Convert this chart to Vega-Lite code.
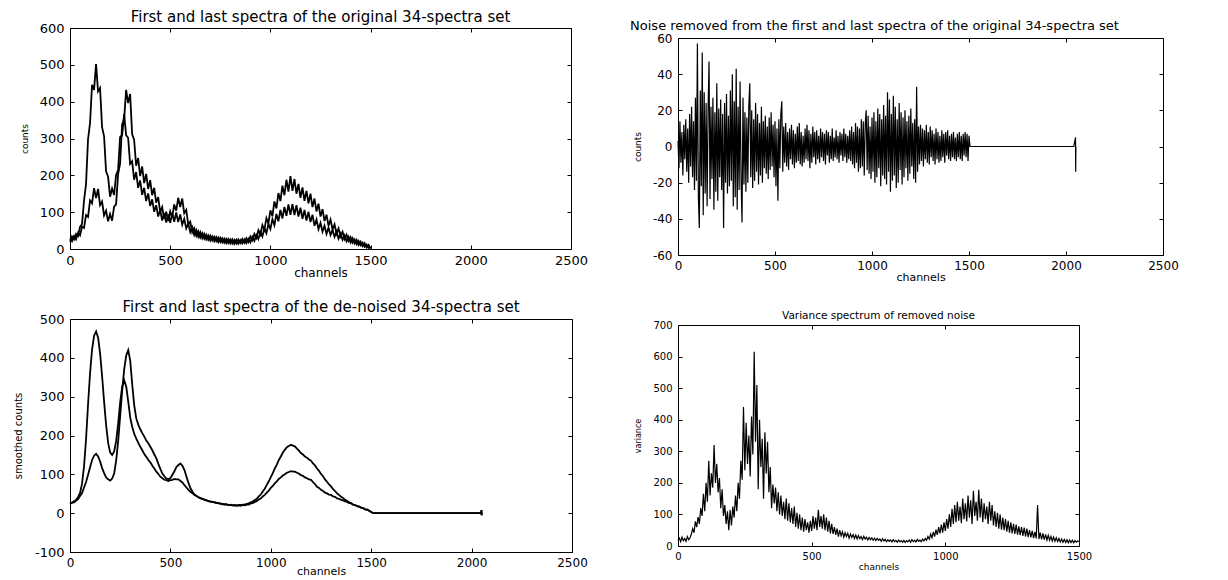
{
"$schema": "https://vega.github.io/schema/vega-lite/v6.json",
"background": "white",
"padding": {"left": 12, "top": 9, "right": 5, "bottom": 0},
"config": {
 "font": "DejaVu Sans",
 "view": {"stroke": "black", "strokeWidth": 1},
 "axis": {"grid": false, "domain": false, "tickColor": "black", "tickSize": -4, "labelPadding": 10, "labelColor": "black", "titleColor": "black", "labelFont": "DejaVu Sans", "titleFont": "DejaVu Sans", "titleFontWeight": "normal", "labelFlush": false, "labelOverlap": false, "labelBound": false, "domainColor": "black", "domainWidth": 1},
 "axisX": {"labelPadding": 9},
 "title": {"font": "DejaVu Sans", "fontWeight": "normal", "color": "black", "anchor": "middle"}
},
"datasets": {
 "tl": [
{"x":0,"a":20,"b":29},{"x":10,"a":34,"b":21},{"x":20,"a":26,"b":35},{"x":30,"a":41,"b":26},{"x":40,"a":35,"b":44},{"x":50,"a":60,"b":37},{"x":60,"a":68,"b":61},{"x":70,"a":131,"b":57},{"x":80,"a":176,"b":92},{"x":90,"a":298,"b":87},
{"x":100,"a":342,"b":132},{"x":110,"a":446,"b":124},{"x":120,"a":432,"b":165},{"x":130,"a":502,"b":138},{"x":140,"a":428,"b":163},{"x":150,"a":437,"b":119},{"x":160,"a":331,"b":129},{"x":170,"a":306,"b":91},{"x":180,"a":211,"b":104},{"x":190,"a":196,"b":75},
{"x":200,"a":142,"b":95},{"x":210,"a":164,"b":77},{"x":220,"a":147,"b":115},{"x":230,"a":201,"b":121},{"x":240,"a":214,"b":203},{"x":250,"a":304,"b":232},{"x":260,"a":308,"b":338},{"x":270,"a":366,"b":351},{"x":280,"a":309,"b":432},{"x":290,"a":302,"b":396},
{"x":300,"a":231,"b":421},{"x":310,"a":238,"b":312},{"x":320,"a":188,"b":296},{"x":330,"a":209,"b":226},{"x":340,"a":166,"b":247},{"x":350,"a":186,"b":198},{"x":360,"a":147,"b":224},{"x":370,"a":166,"b":179},{"x":380,"a":130,"b":204},{"x":390,"a":151,"b":163},
{"x":400,"a":117,"b":187},{"x":410,"a":135,"b":146},{"x":420,"a":101,"b":166},{"x":430,"a":119,"b":126},{"x":440,"a":88,"b":141},{"x":450,"a":106,"b":100},{"x":460,"a":77,"b":114},{"x":470,"a":97,"b":82},{"x":480,"a":72,"b":101},{"x":490,"a":94,"b":76},
{"x":500,"a":71,"b":102},{"x":510,"a":97,"b":86},{"x":520,"a":74,"b":121},{"x":530,"a":99,"b":104},{"x":540,"a":73,"b":139},{"x":550,"a":94,"b":114},{"x":560,"a":66,"b":137},{"x":570,"a":82,"b":97},{"x":580,"a":56,"b":106},{"x":590,"a":69,"b":67},
{"x":600,"a":46,"b":74},{"x":610,"a":59,"b":45},{"x":620,"a":38,"b":56},{"x":630,"a":51,"b":36},{"x":640,"a":33,"b":48},{"x":650,"a":46,"b":31},{"x":660,"a":29,"b":43},{"x":670,"a":41,"b":28},{"x":680,"a":26,"b":39},{"x":690,"a":37,"b":25},
{"x":700,"a":23,"b":36},{"x":710,"a":34,"b":23},{"x":720,"a":21,"b":33},{"x":730,"a":32,"b":21},{"x":740,"a":19,"b":31},{"x":750,"a":30,"b":19},{"x":760,"a":18,"b":29},{"x":770,"a":28,"b":17},{"x":780,"a":16,"b":27},{"x":790,"a":27,"b":16},
{"x":800,"a":15,"b":26},{"x":810,"a":26,"b":15},{"x":820,"a":14,"b":25},{"x":830,"a":25,"b":15},{"x":840,"a":14,"b":26},{"x":850,"a":24,"b":16},{"x":860,"a":15,"b":27},{"x":870,"a":26,"b":17},{"x":880,"a":16,"b":29},{"x":890,"a":28,"b":19},
{"x":900,"a":18,"b":34},{"x":910,"a":33,"b":24},{"x":920,"a":22,"b":41},{"x":930,"a":38,"b":30},{"x":940,"a":27,"b":51},{"x":950,"a":46,"b":39},{"x":960,"a":34,"b":65},{"x":970,"a":56,"b":52},{"x":980,"a":43,"b":84},{"x":990,"a":68,"b":70},
{"x":1000,"a":54,"b":105},{"x":1010,"a":81,"b":89},{"x":1020,"a":65,"b":129},{"x":1030,"a":95,"b":110},{"x":1040,"a":75,"b":152},{"x":1050,"a":106,"b":130},{"x":1060,"a":83,"b":172},{"x":1070,"a":114,"b":146},{"x":1080,"a":90,"b":188},{"x":1090,"a":121,"b":156},
{"x":1100,"a":93,"b":198},{"x":1110,"a":122,"b":158},{"x":1120,"a":92,"b":190},{"x":1130,"a":119,"b":150},{"x":1140,"a":88,"b":177},{"x":1150,"a":112,"b":139},{"x":1160,"a":82,"b":167},{"x":1170,"a":106,"b":131},{"x":1180,"a":77,"b":158},{"x":1190,"a":101,"b":124},
{"x":1200,"a":73,"b":150},{"x":1210,"a":93,"b":114},{"x":1220,"a":63,"b":137},{"x":1230,"a":80,"b":102},{"x":1240,"a":54,"b":123},{"x":1250,"a":71,"b":88},{"x":1260,"a":47,"b":108},{"x":1270,"a":63,"b":76},{"x":1280,"a":41,"b":93},{"x":1290,"a":58,"b":63},
{"x":1300,"a":38,"b":80},{"x":1310,"a":52,"b":53},{"x":1320,"a":33,"b":67},{"x":1330,"a":47,"b":42},{"x":1340,"a":28,"b":56},{"x":1350,"a":42,"b":34},{"x":1360,"a":25,"b":47},{"x":1370,"a":37,"b":27},{"x":1380,"a":21,"b":39},{"x":1390,"a":33,"b":22},
{"x":1400,"a":18,"b":32},{"x":1410,"a":29,"b":17},{"x":1420,"a":15,"b":26},{"x":1430,"a":25,"b":13},{"x":1440,"a":11,"b":22},{"x":1450,"a":20,"b":10},{"x":1460,"a":8,"b":17},{"x":1470,"a":16,"b":6},{"x":1480,"a":4,"b":12},{"x":1490,"a":11,"b":3},{"x":1500,"a":1,"b":5}
 ],
 "bl": [
{"x":0,"a":26,"b":24},{"x":10,"a":27,"b":27},{"x":20,"a":31,"b":28},{"x":30,"a":34,"b":32},{"x":40,"a":41,"b":36},{"x":50,"a":52,"b":44},{"x":60,"a":76,"b":52},{"x":70,"a":121,"b":66},{"x":80,"a":191,"b":80},{"x":90,"a":281,"b":99},
{"x":100,"a":361,"b":118},{"x":110,"a":422,"b":137},{"x":120,"a":457,"b":148},{"x":130,"a":468,"b":153},{"x":140,"a":452,"b":146},{"x":150,"a":411,"b":133},{"x":160,"a":352,"b":116},{"x":170,"a":286,"b":103},{"x":180,"a":226,"b":92},{"x":190,"a":181,"b":87},
{"x":200,"a":156,"b":84},{"x":210,"a":150,"b":89},{"x":220,"a":159,"b":102},{"x":230,"a":186,"b":136},{"x":240,"a":231,"b":186},{"x":250,"a":286,"b":251},{"x":260,"a":326,"b":316},{"x":270,"a":342,"b":371},{"x":280,"a":326,"b":406},{"x":290,"a":287,"b":420},
{"x":300,"a":246,"b":392},{"x":310,"a":222,"b":331},{"x":320,"a":204,"b":277},{"x":330,"a":192,"b":244},{"x":340,"a":181,"b":228},{"x":350,"a":171,"b":216},{"x":360,"a":162,"b":206},{"x":370,"a":152,"b":197},{"x":380,"a":145,"b":187},{"x":390,"a":137,"b":180},
{"x":400,"a":131,"b":171},{"x":410,"a":122,"b":162},{"x":420,"a":115,"b":151},{"x":430,"a":107,"b":141},{"x":440,"a":101,"b":127},{"x":450,"a":94,"b":114},{"x":460,"a":90,"b":102},{"x":470,"a":86,"b":95},{"x":480,"a":85,"b":89},{"x":490,"a":83,"b":88},
{"x":500,"a":85,"b":90},{"x":510,"a":86,"b":99},{"x":520,"a":88,"b":108},{"x":530,"a":87,"b":119},{"x":540,"a":87,"b":124},{"x":550,"a":83,"b":128},{"x":560,"a":79,"b":122},{"x":570,"a":72,"b":111},{"x":580,"a":66,"b":94},{"x":590,"a":60,"b":78},
{"x":600,"a":55,"b":64},{"x":610,"a":51,"b":55},{"x":620,"a":47,"b":48},{"x":630,"a":44,"b":44},{"x":640,"a":41,"b":41},{"x":650,"a":39,"b":38},{"x":660,"a":37,"b":37},{"x":670,"a":35,"b":34},{"x":680,"a":33,"b":33},{"x":690,"a":31,"b":31},
{"x":700,"a":30,"b":30},{"x":710,"a":29,"b":29},{"x":720,"a":28,"b":28},{"x":730,"a":26,"b":27},{"x":740,"a":26,"b":25},{"x":750,"a":25,"b":24},{"x":760,"a":23,"b":24},{"x":770,"a":23,"b":22},{"x":780,"a":22,"b":23},{"x":790,"a":21,"b":21},
{"x":800,"a":21,"b":22},{"x":810,"a":20,"b":20},{"x":820,"a":20,"b":21},{"x":830,"a":19,"b":20},{"x":840,"a":20,"b":21},{"x":850,"a":19,"b":21},{"x":860,"a":21,"b":22},{"x":870,"a":20,"b":22},{"x":880,"a":22,"b":24},{"x":890,"a":22,"b":25},
{"x":900,"a":25,"b":28},{"x":910,"a":26,"b":30},{"x":920,"a":29,"b":34},{"x":930,"a":31,"b":37},{"x":940,"a":35,"b":43},{"x":950,"a":38,"b":48},{"x":960,"a":43,"b":56},{"x":970,"a":47,"b":63},{"x":980,"a":53,"b":73},{"x":990,"a":58,"b":82},
{"x":1000,"a":65,"b":93},{"x":1010,"a":70,"b":103},{"x":1020,"a":77,"b":115},{"x":1030,"a":82,"b":125},{"x":1040,"a":88,"b":137},{"x":1050,"a":92,"b":146},{"x":1060,"a":97,"b":156},{"x":1070,"a":100,"b":163},{"x":1080,"a":104,"b":170},{"x":1090,"a":106,"b":173},
{"x":1100,"a":108,"b":176},{"x":1110,"a":107,"b":174},{"x":1120,"a":107,"b":172},{"x":1130,"a":104,"b":166},{"x":1140,"a":102,"b":161},{"x":1150,"a":98,"b":155},{"x":1160,"a":96,"b":151},{"x":1170,"a":92,"b":146},{"x":1180,"a":90,"b":143},{"x":1190,"a":87,"b":138},
{"x":1200,"a":86,"b":135},{"x":1210,"a":80,"b":128},{"x":1220,"a":75,"b":123},{"x":1230,"a":68,"b":115},{"x":1240,"a":65,"b":109},{"x":1250,"a":60,"b":101},{"x":1260,"a":57,"b":95},{"x":1270,"a":53,"b":87},{"x":1280,"a":51,"b":81},{"x":1290,"a":48,"b":74},
{"x":1300,"a":47,"b":69},{"x":1310,"a":43,"b":62},{"x":1320,"a":42,"b":57},{"x":1330,"a":38,"b":51},{"x":1340,"a":37,"b":47},{"x":1350,"a":34,"b":42},{"x":1360,"a":33,"b":39},{"x":1370,"a":30,"b":34},{"x":1380,"a":29,"b":32},{"x":1390,"a":26,"b":28},
{"x":1400,"a":25,"b":26},{"x":1410,"a":22,"b":22},{"x":1420,"a":21,"b":21},{"x":1430,"a":18,"b":18},{"x":1440,"a":17,"b":17},{"x":1450,"a":14,"b":14},{"x":1460,"a":13,"b":13},{"x":1470,"a":10,"b":10},{"x":1480,"a":9,"b":9},{"x":1490,"a":6,"b":6},
{"x":1500,"a":3,"b":3},{"x":1510,"a":0,"b":0},{"x":2048,"a":0,"b":0},{"x":2049,"a":8,"b":8},{"x":2050,"a":-5,"b":-5},{"x":2051,"a":0,"b":0}
 ],
 "tr": [
{"x":0,"y":3},{"x":5,"y":-12},{"x":10,"y":14},{"x":15,"y":-9},{"x":20,"y":8},{"x":25,"y":-16},{"x":30,"y":12},{"x":35,"y":-7},{"x":40,"y":15},{"x":45,"y":-14},
{"x":50,"y":10},{"x":55,"y":-20},{"x":60,"y":18},{"x":65,"y":-11},{"x":70,"y":22},{"x":75,"y":-17},{"x":80,"y":14},{"x":85,"y":-24},{"x":90,"y":27},{"x":95,"y":-19},
{"x":100,"y":57},{"x":105,"y":-28},{"x":110,"y":-45},{"x":115,"y":31},{"x":120,"y":-22},{"x":125,"y":52},{"x":130,"y":-38},{"x":135,"y":30},{"x":140,"y":-26},{"x":145,"y":24},
{"x":150,"y":-33},{"x":155,"y":20},{"x":160,"y":47},{"x":165,"y":-29},{"x":170,"y":22},{"x":175,"y":-18},{"x":180,"y":27},{"x":185,"y":-35},{"x":190,"y":19},{"x":195,"y":-25},
{"x":200,"y":35},{"x":205,"y":-30},{"x":210,"y":21},{"x":215,"y":-17},{"x":220,"y":26},{"x":225,"y":-24},{"x":230,"y":18},{"x":235,"y":-45},{"x":240,"y":24},{"x":245,"y":-20},
{"x":250,"y":29},{"x":255,"y":-26},{"x":260,"y":17},{"x":265,"y":-22},{"x":270,"y":31},{"x":275,"y":-19},{"x":280,"y":40},{"x":285,"y":-33},{"x":290,"y":25},{"x":295,"y":-28},
{"x":300,"y":43},{"x":305,"y":-35},{"x":310,"y":22},{"x":315,"y":-24},{"x":320,"y":36},{"x":325,"y":-18},{"x":330,"y":-42},{"x":335,"y":27},{"x":340,"y":-21},{"x":345,"y":19},
{"x":350,"y":-25},{"x":355,"y":16},{"x":360,"y":-20},{"x":365,"y":22},{"x":370,"y":35},{"x":375,"y":-17},{"x":380,"y":20},{"x":385,"y":-23},{"x":390,"y":15},{"x":395,"y":-19},
{"x":400,"y":24},{"x":405,"y":-14},{"x":410,"y":18},{"x":415,"y":-21},{"x":420,"y":13},{"x":425,"y":-16},{"x":430,"y":22},{"x":435,"y":-20},{"x":440,"y":14},{"x":445,"y":-12},
{"x":450,"y":17},{"x":455,"y":-15},{"x":460,"y":11},{"x":465,"y":-18},{"x":470,"y":16},{"x":475,"y":-13},{"x":480,"y":19},{"x":485,"y":-11},{"x":490,"y":12},{"x":495,"y":-17},
{"x":500,"y":14},{"x":505,"y":-22},{"x":510,"y":10},{"x":515,"y":-30},{"x":520,"y":15},{"x":525,"y":-12},{"x":530,"y":18},{"x":535,"y":25},{"x":540,"y":-14},{"x":545,"y":11},
{"x":550,"y":-9},{"x":555,"y":13},{"x":560,"y":-11},{"x":565,"y":8},{"x":570,"y":-13},{"x":575,"y":10},{"x":580,"y":-7},{"x":585,"y":12},{"x":590,"y":-10},{"x":595,"y":9},
{"x":600,"y":-12},{"x":605,"y":7},{"x":610,"y":-9},{"x":615,"y":11},{"x":620,"y":-8},{"x":625,"y":13},{"x":630,"y":-10},{"x":635,"y":8},{"x":640,"y":-11},{"x":645,"y":6},
{"x":650,"y":-9},{"x":655,"y":10},{"x":660,"y":-7},{"x":665,"y":12},{"x":670,"y":-8},{"x":675,"y":9},{"x":680,"y":-12},{"x":685,"y":7},{"x":690,"y":-9},{"x":695,"y":11},
{"x":700,"y":-6},{"x":705,"y":8},{"x":710,"y":-10},{"x":715,"y":9},{"x":720,"y":-7},{"x":725,"y":6},{"x":730,"y":-9},{"x":735,"y":10},{"x":740,"y":-6},{"x":745,"y":8},
{"x":750,"y":-8},{"x":755,"y":7},{"x":760,"y":-10},{"x":765,"y":9},{"x":770,"y":-5},{"x":775,"y":8},{"x":780,"y":-9},{"x":785,"y":6},{"x":790,"y":-7},{"x":795,"y":10},
{"x":800,"y":-8},{"x":805,"y":5},{"x":810,"y":-6},{"x":815,"y":9},{"x":820,"y":-7},{"x":825,"y":6},{"x":830,"y":-9},{"x":835,"y":8},{"x":840,"y":-5},{"x":845,"y":7},
{"x":850,"y":-8},{"x":855,"y":10},{"x":860,"y":-6},{"x":865,"y":7},{"x":870,"y":-9},{"x":875,"y":6},{"x":880,"y":-7},{"x":885,"y":9},{"x":890,"y":-8},{"x":895,"y":11},
{"x":900,"y":-10},{"x":905,"y":8},{"x":910,"y":-12},{"x":915,"y":13},{"x":920,"y":-9},{"x":925,"y":11},{"x":930,"y":-14},{"x":935,"y":10},{"x":940,"y":-12},{"x":945,"y":15},
{"x":950,"y":-11},{"x":955,"y":14},{"x":960,"y":-16},{"x":965,"y":12},{"x":970,"y":20},{"x":975,"y":-13},{"x":980,"y":17},{"x":985,"y":-15},{"x":990,"y":11},{"x":995,"y":-18},
{"x":1000,"y":16},{"x":1005,"y":-14},{"x":1010,"y":19},{"x":1015,"y":-20},{"x":1020,"y":14},{"x":1025,"y":-17},{"x":1030,"y":21},{"x":1035,"y":-12},{"x":1040,"y":18},{"x":1045,"y":-22},
{"x":1050,"y":15},{"x":1055,"y":-16},{"x":1060,"y":23},{"x":1065,"y":-18},{"x":1070,"y":17},{"x":1075,"y":-21},{"x":1080,"y":30},{"x":1085,"y":-14},{"x":1090,"y":26},{"x":1095,"y":-25},
{"x":1100,"y":18},{"x":1105,"y":-19},{"x":1110,"y":28},{"x":1115,"y":-16},{"x":1120,"y":22},{"x":1125,"y":-23},{"x":1130,"y":15},{"x":1135,"y":-20},{"x":1140,"y":24},{"x":1145,"y":-13},
{"x":1150,"y":19},{"x":1155,"y":-21},{"x":1160,"y":16},{"x":1165,"y":-17},{"x":1170,"y":20},{"x":1175,"y":-12},{"x":1180,"y":14},{"x":1185,"y":-19},{"x":1190,"y":17},{"x":1195,"y":-15},
{"x":1200,"y":21},{"x":1205,"y":-11},{"x":1210,"y":13},{"x":1215,"y":-18},{"x":1220,"y":15},{"x":1225,"y":-20},{"x":1230,"y":33},{"x":1235,"y":-14},{"x":1240,"y":11},{"x":1245,"y":-10},
{"x":1250,"y":12},{"x":1255,"y":-8},{"x":1260,"y":10},{"x":1265,"y":-11},{"x":1270,"y":9},{"x":1275,"y":-7},{"x":1280,"y":12},{"x":1285,"y":-9},{"x":1290,"y":8},{"x":1295,"y":-10},
{"x":1300,"y":11},{"x":1305,"y":-6},{"x":1310,"y":9},{"x":1315,"y":-8},{"x":1320,"y":7},{"x":1325,"y":-10},{"x":1330,"y":10},{"x":1335,"y":-7},{"x":1340,"y":8},{"x":1345,"y":-9},
{"x":1350,"y":6},{"x":1355,"y":-8},{"x":1360,"y":9},{"x":1365,"y":-6},{"x":1370,"y":7},{"x":1375,"y":-9},{"x":1380,"y":8},{"x":1385,"y":-5},{"x":1390,"y":9},{"x":1395,"y":-7},
{"x":1400,"y":6},{"x":1405,"y":-8},{"x":1410,"y":7},{"x":1415,"y":-6},{"x":1420,"y":8},{"x":1425,"y":-7},{"x":1430,"y":5},{"x":1435,"y":-8},{"x":1440,"y":7},{"x":1445,"y":-6},
{"x":1450,"y":8},{"x":1455,"y":-7},{"x":1460,"y":6},{"x":1465,"y":-8},{"x":1470,"y":7},{"x":1475,"y":-5},{"x":1480,"y":8},{"x":1485,"y":-6},{"x":1490,"y":7},{"x":1495,"y":-8},
{"x":1500,"y":6},{"x":1505,"y":0},{"x":2040,"y":0},{"x":2049,"y":5},{"x":2050,"y":-14},{"x":2051,"y":0}
 ],
 "br": [
{"x":0,"y":18},{"x":5,"y":25},{"x":10,"y":14},{"x":15,"y":28},{"x":20,"y":17},{"x":25,"y":24},{"x":30,"y":15},{"x":35,"y":30},{"x":40,"y":20},{"x":45,"y":26},
{"x":50,"y":38},{"x":55,"y":55},{"x":60,"y":42},{"x":65,"y":78},{"x":70,"y":60},{"x":75,"y":92},{"x":80,"y":70},{"x":85,"y":120},{"x":90,"y":95},{"x":95,"y":165},
{"x":100,"y":110},{"x":105,"y":200},{"x":110,"y":140},{"x":115,"y":270},{"x":120,"y":160},{"x":125,"y":230},{"x":130,"y":185},{"x":135,"y":320},{"x":140,"y":200},{"x":145,"y":260},
{"x":150,"y":170},{"x":155,"y":215},{"x":160,"y":120},{"x":165,"y":180},{"x":170,"y":95},{"x":175,"y":130},{"x":180,"y":70},{"x":185,"y":110},{"x":190,"y":50},{"x":195,"y":115},
{"x":200,"y":65},{"x":205,"y":125},{"x":210,"y":90},{"x":215,"y":160},{"x":220,"y":110},{"x":225,"y":200},{"x":230,"y":150},{"x":235,"y":270},{"x":240,"y":210},{"x":245,"y":440},
{"x":250,"y":240},{"x":255,"y":390},{"x":260,"y":260},{"x":265,"y":350},{"x":270,"y":220},{"x":275,"y":410},{"x":280,"y":290},{"x":285,"y":615},{"x":290,"y":330},{"x":295,"y":510},
{"x":300,"y":180},{"x":305,"y":400},{"x":310,"y":250},{"x":315,"y":340},{"x":320,"y":150},{"x":325,"y":360},{"x":330,"y":230},{"x":335,"y":330},{"x":340,"y":170},{"x":345,"y":250},
{"x":350,"y":120},{"x":355,"y":195},{"x":360,"y":135},{"x":365,"y":185},{"x":370,"y":110},{"x":375,"y":170},{"x":380,"y":100},{"x":385,"y":160},{"x":390,"y":95},{"x":395,"y":140},
{"x":400,"y":85},{"x":405,"y":150},{"x":410,"y":80},{"x":415,"y":135},{"x":420,"y":75},{"x":425,"y":120},{"x":430,"y":70},{"x":435,"y":125},{"x":440,"y":60},{"x":445,"y":105},
{"x":450,"y":55},{"x":455,"y":100},{"x":460,"y":50},{"x":465,"y":90},{"x":470,"y":45},{"x":475,"y":85},{"x":480,"y":50},{"x":485,"y":75},{"x":490,"y":42},{"x":495,"y":80},
{"x":500,"y":48},{"x":505,"y":95},{"x":510,"y":55},{"x":515,"y":90},{"x":520,"y":50},{"x":525,"y":115},{"x":530,"y":60},{"x":535,"y":95},{"x":540,"y":55},{"x":545,"y":100},
{"x":550,"y":50},{"x":555,"y":90},{"x":560,"y":45},{"x":565,"y":80},{"x":570,"y":40},{"x":575,"y":70},{"x":580,"y":38},{"x":585,"y":60},{"x":590,"y":35},{"x":595,"y":55},
{"x":600,"y":30},{"x":605,"y":50},{"x":610,"y":32},{"x":615,"y":45},{"x":620,"y":28},{"x":625,"y":42},{"x":630,"y":30},{"x":635,"y":40},{"x":640,"y":25},{"x":645,"y":38},
{"x":650,"y":27},{"x":655,"y":36},{"x":660,"y":24},{"x":665,"y":35},{"x":670,"y":22},{"x":675,"y":33},{"x":680,"y":23},{"x":685,"y":30},{"x":690,"y":20},{"x":695,"y":31},
{"x":700,"y":22},{"x":705,"y":28},{"x":710,"y":19},{"x":715,"y":27},{"x":720,"y":20},{"x":725,"y":26},{"x":730,"y":18},{"x":735,"y":25},{"x":740,"y":17},{"x":745,"y":24},
{"x":750,"y":18},{"x":755,"y":22},{"x":760,"y":15},{"x":765,"y":23},{"x":770,"y":16},{"x":775,"y":21},{"x":780,"y":14},{"x":785,"y":20},{"x":790,"y":15},{"x":795,"y":19},
{"x":800,"y":13},{"x":805,"y":20},{"x":810,"y":14},{"x":815,"y":18},{"x":820,"y":12},{"x":825,"y":19},{"x":830,"y":13},{"x":835,"y":17},{"x":840,"y":12},{"x":845,"y":18},
{"x":850,"y":11},{"x":855,"y":17},{"x":860,"y":13},{"x":865,"y":19},{"x":870,"y":12},{"x":875,"y":20},{"x":880,"y":14},{"x":885,"y":18},{"x":890,"y":13},{"x":895,"y":21},
{"x":900,"y":15},{"x":905,"y":19},{"x":910,"y":14},{"x":915,"y":22},{"x":920,"y":16},{"x":925,"y":24},{"x":930,"y":18},{"x":935,"y":30},{"x":940,"y":22},{"x":945,"y":38},
{"x":950,"y":26},{"x":955,"y":45},{"x":960,"y":30},{"x":965,"y":52},{"x":970,"y":35},{"x":975,"y":60},{"x":980,"y":40},{"x":985,"y":68},{"x":990,"y":42},{"x":995,"y":75},
{"x":1000,"y":48},{"x":1005,"y":85},{"x":1010,"y":55},{"x":1015,"y":100},{"x":1020,"y":60},{"x":1025,"y":118},{"x":1030,"y":70},{"x":1035,"y":130},{"x":1040,"y":75},{"x":1045,"y":140},
{"x":1050,"y":80},{"x":1055,"y":125},{"x":1060,"y":72},{"x":1065,"y":150},{"x":1070,"y":85},{"x":1075,"y":135},{"x":1080,"y":78},{"x":1085,"y":160},{"x":1090,"y":90},{"x":1095,"y":145},
{"x":1100,"y":70},{"x":1105,"y":175},{"x":1110,"y":95},{"x":1115,"y":140},{"x":1120,"y":80},{"x":1125,"y":178},{"x":1130,"y":90},{"x":1135,"y":150},{"x":1140,"y":75},{"x":1145,"y":135},
{"x":1150,"y":85},{"x":1155,"y":125},{"x":1160,"y":70},{"x":1165,"y":140},{"x":1170,"y":80},{"x":1175,"y":130},{"x":1180,"y":65},{"x":1185,"y":110},{"x":1190,"y":60},{"x":1195,"y":105},
{"x":1200,"y":55},{"x":1205,"y":100},{"x":1210,"y":52},{"x":1215,"y":90},{"x":1220,"y":50},{"x":1225,"y":85},{"x":1230,"y":45},{"x":1235,"y":80},{"x":1240,"y":42},{"x":1245,"y":75},
{"x":1250,"y":40},{"x":1255,"y":70},{"x":1260,"y":38},{"x":1265,"y":68},{"x":1270,"y":36},{"x":1275,"y":62},{"x":1280,"y":34},{"x":1285,"y":60},{"x":1290,"y":32},{"x":1295,"y":58},
{"x":1300,"y":30},{"x":1305,"y":55},{"x":1310,"y":28},{"x":1315,"y":50},{"x":1320,"y":27},{"x":1325,"y":48},{"x":1330,"y":25},{"x":1335,"y":45},{"x":1340,"y":24},{"x":1345,"y":130},
{"x":1350,"y":22},{"x":1355,"y":42},{"x":1360,"y":21},{"x":1365,"y":40},{"x":1370,"y":20},{"x":1375,"y":37},{"x":1380,"y":19},{"x":1385,"y":34},{"x":1390,"y":18},{"x":1395,"y":30},
{"x":1400,"y":16},{"x":1405,"y":28},{"x":1410,"y":15},{"x":1415,"y":26},{"x":1420,"y":14},{"x":1425,"y":24},{"x":1430,"y":13},{"x":1435,"y":22},{"x":1440,"y":12},{"x":1445,"y":21},
{"x":1450,"y":11},{"x":1455,"y":20},{"x":1460,"y":10},{"x":1465,"y":19},{"x":1470,"y":11},{"x":1475,"y":18},{"x":1480,"y":10},{"x":1485,"y":17},{"x":1490,"y":12},{"x":1495,"y":16},{"x":1500,"y":14}
 ]
},
"spacing": 41,
"hconcat": [
 {"vconcat": [
  {"title": {"text": "First and last spectra of the original 34-spectra set", "fontSize": 15, "offset": -3},
   "width": 501, "height": 221,
   "data": {"name": "tl"},
   "layer": [
    {"transform": [{"fold": ["a", "b"], "as": ["s", "v"]}],
     "mark": {"type": "line", "color": "black", "strokeWidth": 1.8},
     "encoding": {
      "x": {"field": "x", "type": "quantitative", "scale": {"domain": [0, 2500], "nice": false}, "axis": {"values": [0, 500, 1000, 1500, 2000, 2500], "format": "d", "labelFontSize": 13, "title": "channels", "titleFontSize": 12, "titlePadding": 0}},
      "y": {"field": "v", "type": "quantitative", "scale": {"domain": [0, 600], "nice": false}, "axis": {"values": [0, 100, 200, 300, 400, 500, 600], "format": "d", "labelFontSize": 13, "title": "counts", "titleFontSize": 9, "titlePadding": 10}},
      "detail": {"field": "s"}}},
    {"mark": {"type": "point", "opacity": 0},
     "encoding": {
      "x": {"field": "x", "type": "quantitative", "scale": {"domain": [0, 2500], "nice": false}, "axis": {"orient": "top", "values": [0, 500, 1000, 1500, 2000, 2500], "labels": false, "title": null}},
      "y": {"field": "a", "type": "quantitative", "scale": {"domain": [0, 600], "nice": false}, "axis": {"orient": "right", "values": [0, 100, 200, 300, 400, 500, 600], "labels": false, "title": null}}}}
   ],
   "resolve": {"axis": {"x": "independent", "y": "independent"}}},
  {"title": {"text": "First and last spectra of the de-noised 34-spectra set", "fontSize": 15, "offset": -2},
   "width": 502, "height": 233,
   "data": {"name": "bl"},
   "layer": [
    {"transform": [{"fold": ["a", "b"], "as": ["s", "v"]}],
     "mark": {"type": "line", "color": "black", "strokeWidth": 1.8},
     "encoding": {
      "x": {"field": "x", "type": "quantitative", "scale": {"domain": [0, 2500], "nice": false}, "axis": {"values": [0, 500, 1000, 1500, 2000, 2500], "format": "d", "labelFontSize": 12, "title": "channels", "titleFontSize": 11, "titlePadding": -3}},
      "y": {"field": "v", "type": "quantitative", "scale": {"domain": [-100, 500], "nice": false}, "axis": {"values": [-100, 0, 100, 200, 300, 400, 500], "labelExpr": "toString(datum.value)", "labelFontSize": 13, "title": "smoothed counts", "titleFontSize": 10, "titlePadding": 11}},
      "detail": {"field": "s"}}},
    {"mark": {"type": "point", "opacity": 0},
     "encoding": {
      "x": {"field": "x", "type": "quantitative", "scale": {"domain": [0, 2500], "nice": false}, "axis": {"orient": "top", "values": [0, 500, 1000, 1500, 2000, 2500], "labels": false, "title": null}},
      "y": {"field": "a", "type": "quantitative", "scale": {"domain": [-100, 500], "nice": false}, "axis": {"orient": "right", "values": [-100, 0, 100, 200, 300, 400, 500], "labels": false, "title": null}}}}
   ],
   "resolve": {"axis": {"x": "independent", "y": "independent"}}}
 ], "spacing": 70, "bounds": "flush"},
 {"vconcat": [
  {"title": {"text": "Noise removed from the first and last spectra of the original 34-spectra set", "fontSize": 13, "offset": -5, "dx": -46},
   "width": 485, "height": 227,
   "view": {"stroke": null},
   "data": {"name": "tr"},
   "layer": [
    {"mark": {"type": "line", "color": "black", "strokeWidth": 1.2},
     "encoding": {
      "x": {"field": "x", "type": "quantitative", "scale": {"domain": [0, 2500], "nice": false}, "axis": {"values": [0, 500, 1000, 1500, 2000, 2500], "format": "d", "domain": true, "labelFontSize": 12, "title": "channels", "titleFontSize": 11, "titlePadding": 0}},
      "y": {"field": "y", "type": "quantitative", "scale": {"domain": [-60, 60], "nice": false, "range": [227, 10]}, "axis": {"values": [-60, -40, -20, 0, 20, 40, 60], "domain": true, "labelExpr": "toString(datum.value)", "labelFontSize": 12, "title": "counts", "titleFontSize": 9, "titlePadding": 10}}}},
    {"mark": {"type": "point", "opacity": 0},
     "encoding": {
      "x": {"field": "x", "type": "quantitative", "scale": {"domain": [0, 2500], "nice": false}, "axis": {"orient": "top", "offset": -10, "domain": true, "values": [0, 500, 1000, 1500, 2000, 2500], "labels": false, "title": null}},
      "y": {"field": "y", "type": "quantitative", "scale": {"domain": [-60, 60], "nice": false, "range": [227, 10]}, "axis": {"orient": "right", "domain": true, "values": [-60, -40, -20, 0, 20, 40, 60], "labels": false, "title": null}}}}
   ],
   "resolve": {"axis": {"x": "independent", "y": "independent"}}},
  {"title": {"text": "Variance spectrum of removed noise", "fontSize": 10.5, "offset": -1},
   "width": 401, "height": 221,
   "data": {"name": "br"},
   "layer": [
    {"mark": {"type": "line", "color": "black", "strokeWidth": 1.2},
     "encoding": {
      "x": {"field": "x", "type": "quantitative", "scale": {"domain": [0, 1500], "nice": false}, "axis": {"values": [0, 500, 1000, 1500], "format": "d", "labelFontSize": 10, "title": "channels", "titleFontSize": 9, "titlePadding": 1}},
      "y": {"field": "y", "type": "quantitative", "scale": {"domain": [0, 700], "nice": false}, "axis": {"values": [0, 100, 200, 300, 400, 500, 600, 700], "format": "d", "labelFontSize": 10, "title": "variance", "titleFontSize": 8, "titlePadding": 10}}}},
    {"mark": {"type": "point", "opacity": 0},
     "encoding": {
      "x": {"field": "x", "type": "quantitative", "scale": {"domain": [0, 1500], "nice": false}, "axis": {"orient": "top", "values": [0, 500, 1000, 1500], "labels": false, "title": null}},
      "y": {"field": "y", "type": "quantitative", "scale": {"domain": [0, 700], "nice": false}, "axis": {"orient": "right", "values": [0, 100, 200, 300, 400, 500, 600, 700], "labels": false, "title": null}}}}
   ],
   "resolve": {"axis": {"x": "independent", "y": "independent"}}}
 ], "spacing": 70, "bounds": "flush"}
]
}
